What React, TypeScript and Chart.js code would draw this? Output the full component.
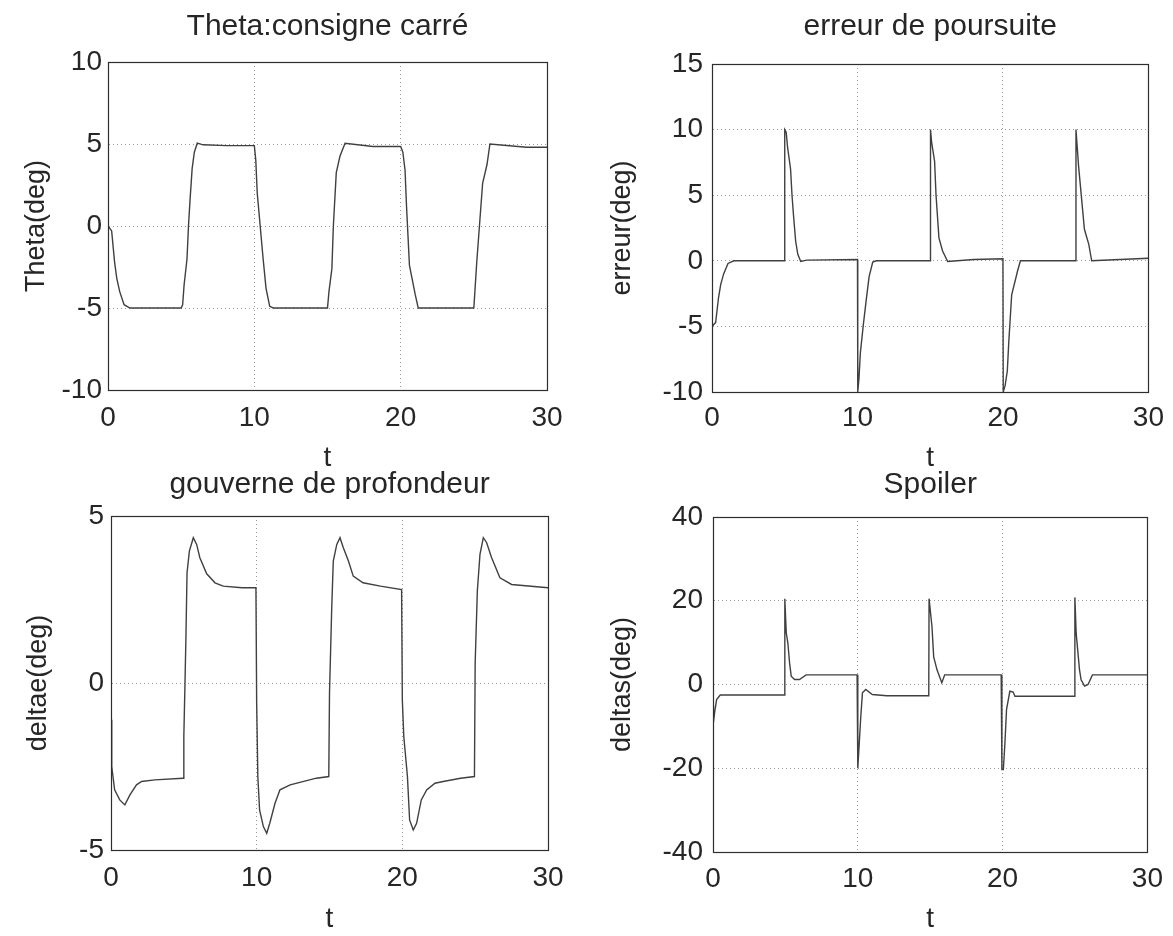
import React, { useEffect, useRef } from "react";
import { Chart, registerables } from "chart.js";

Chart.register(...registerables);

const FONT = '"Liberation Sans", Arial, Helvetica, sans-serif';
const TEXT = "#262626";
const GRID = "rgba(0,0,0,0.40)";
const LINE = "#404040";

// ---------- Subplot 1 : Theta (réponse à la consigne carrée) ----------
const thetaT = [0, 0.25, 0.45, 0.6, 0.8, 1.1, 1.5, 5.0, 5.1, 5.2, 5.4, 5.5, 5.6, 5.75, 5.9, 6.1, 6.5, 8.1, 10.0, 10.1, 10.2, 10.4, 10.6, 10.8, 11.05, 11.3, 15.0, 15.1, 15.3, 15.4, 15.6, 15.85, 16.2, 18.1, 20.0, 20.15, 20.3, 20.4, 20.5, 20.6, 21.0, 21.2, 25.0, 25.2, 25.4, 25.6, 25.9, 26.1, 28.6, 30];
const thetaY = [0, -0.3, -2.2, -3.2, -4.0, -4.8, -5.0, -5.0, -4.8, -3.6, -2.0, 0.0, 1.5, 3.5, 4.5, 5.05, 4.95, 4.9, 4.9, 4.0, 2.0, 0.0, -2.0, -3.8, -4.9, -5.0, -5.0, -4.0, -2.6, 0.0, 3.25, 4.25, 5.05, 4.85, 4.85, 4.5, 3.4, 1.2, -0.6, -2.4, -4.2, -5.0, -5.0, -2.2, 0.2, 2.6, 3.75, 5.0, 4.8, 4.8];

// ---------- Subplot 2 : erreur de poursuite ----------
const errT = [0, 0.25, 0.45, 0.6, 0.8, 1.1, 1.5, 4.95, 5.0, 5.1, 5.2, 5.4, 5.5, 5.6, 5.75, 5.9, 6.1, 6.5, 10.0, 10.02, 10.1, 10.2, 10.4, 10.6, 10.8, 11.05, 11.3, 15.0, 15.02, 15.1, 15.3, 15.4, 15.6, 15.85, 16.2, 18.0, 20.0, 20.02, 20.15, 20.3, 20.4, 20.5, 20.6, 21.0, 21.2, 25.0, 25.02, 25.2, 25.4, 25.6, 25.9, 26.1, 30];
const errY = [-5, -4.7, -2.8, -1.8, -1.0, -0.2, 0, 0, 10, 9.8, 8.6, 7.0, 5.0, 3.5, 1.5, 0.5, -0.05, 0.05, 0.1, -10, -9.0, -7.0, -4.9, -3.0, -1.2, -0.1, 0, 0, 10, 9.0, 7.6, 5.0, 1.75, 0.75, -0.05, 0.1, 0.15, -10, -9.5, -8.4, -6.2, -4.4, -2.6, -0.8, 0, 0, 10, 7.2, 4.8, 2.4, 1.25, 0, 0.2];

// ---------- Subplot 3 : gouverne de profondeur ----------
const deltaeT = [0, 0.05, 0.25, 0.6, 0.95, 1.3, 1.75, 2.1, 3.0, 4.95, 5.0, 5.08, 5.15, 5.22, 5.38, 5.65, 5.88, 6.1, 6.57, 7.14, 7.7, 9.0, 9.95, 10.0, 10.08, 10.2, 10.46, 10.69, 10.9, 11.26, 11.6, 12.3, 14.1, 14.95, 15.0, 15.15, 15.26, 15.5, 15.72, 15.95, 16.3, 16.63, 17.3, 18.5, 19.95, 20.0, 20.1, 20.35, 20.5, 20.75, 20.98, 21.3, 21.67, 22.24, 22.8, 24.0, 24.95, 25.0, 25.15, 25.33, 25.56, 25.79, 26.13, 26.7, 27.5, 30];
const deltaeY = [-1.1, -2.5, -3.2, -3.5, -3.65, -3.35, -3.05, -2.95, -2.9, -2.85, -1.6, 0, 1.5, 3.3, 3.95, 4.35, 4.15, 3.75, 3.27, 3.0, 2.9, 2.85, 2.85, -0.6, -2.8, -3.8, -4.3, -4.5, -4.2, -3.6, -3.2, -3.05, -2.85, -2.8, -0.3, 2.2, 3.65, 4.15, 4.35, 4.05, 3.65, 3.2, 3.0, 2.9, 2.8, -0.5, -1.6, -2.8, -4.1, -4.4, -4.2, -3.5, -3.2, -3.0, -2.95, -2.85, -2.8, 0.6, 2.76, 3.85, 4.35, 4.2, 3.75, 3.15, 2.95, 2.85];

// ---------- Subplot 4 : Spoiler ----------
const deltasT = [0, 0.03, 0.12, 0.25, 0.5, 4.94, 4.96, 5.06, 5.17, 5.29, 5.4, 5.63, 5.97, 6.43, 9.95, 10.0, 10.1, 10.2, 10.32, 10.55, 11.0, 12.0, 14.9, 14.92, 15.12, 15.24, 15.47, 15.8, 16.0, 19.9, 19.95, 20.05, 20.16, 20.27, 20.5, 20.73, 20.85, 24.97, 24.99, 25.08, 25.31, 25.42, 25.66, 25.9, 26.2, 30];
const deltasY = [-5, -9, -6.5, -3.6, -2.5, -2.5, 20.5, 12.3, 9.9, 5.1, 2.0, 1.2, 1.2, 2.3, 2.3, -20, -14, -8, -2.0, -1.2, -2.4, -2.7, -2.7, 20.5, 13.9, 6.6, 3.5, 0.4, 2.3, 2.3, -20.3, -20.3, -13.9, -6.0, -1.6, -1.8, -2.8, -2.8, 20.8, 12.2, 3.5, 1.1, -0.4, 0, 2.3, 2.3];

// ---------- Axes / labels ----------
const xTicks = [0, 10, 20, 30];
const titles = ["Theta:consigne carré", "erreur de poursuite", "gouverne de profondeur", "Spoiler"];
const yLabels = ["Theta(deg)", "erreur(deg)", "deltae(deg)", "deltas(deg)"];
const xLabel = "t";
const yRanges = [
  [-10, 10, 5],
  [-10, 15, 5],
  [-5, 5, 5],
  [-40, 40, 20],
];

const toPts = (t: number[], y: number[]) => t.map((x, i) => ({ x, y: y[i] }));

const boxPlugin = {
  id: "matlabBox",
  afterDatasetsDraw(chart: any) {
    const { ctx, chartArea } = chart;
    const { left, top, right, bottom } = chartArea;
    ctx.save();
    ctx.strokeStyle = "#2e2e2e";
    ctx.lineWidth = 1.2;
    ctx.setLineDash([]);
    ctx.strokeRect(Math.round(left) + 0.5, Math.round(top) + 0.5, Math.round(right - left), Math.round(bottom - top));
    ctx.restore();
  },
};

type Spec = {
  idx: number;
  left: number;
  top: number;
  w: number;
  h: number;
  yWidth: number;
  padRight: number;
  titleTop: number;
  titleBottom: number;
  xHeight: number;
  xTickPad: number;
  xTitleBottom: number;
  yTickPad: number;
  yTitlePad: number;
  series: { t: number[]; y: number[] }[];
};

const specs: Spec[] = [
  { idx: 0, left: 0, top: 0, w: 586, h: 480, yWidth: 108, padRight: 39, titleTop: 9, titleBottom: 17, xHeight: 90, xTickPad: 11, xTitleBottom: 5, yTickPad: 6, yTitlePad: 20, series: [{ t: thetaT, y: thetaY }] },
  { idx: 1, left: 586, top: 0, w: 587, h: 480, yWidth: 126, padRight: 24, titleTop: 9, titleBottom: 19, xHeight: 88, xTickPad: 9, xTitleBottom: 5, yTickPad: 9, yTitlePad: 20, series: [{ t: errT, y: errY }] },
  { idx: 2, left: 0, top: 440, w: 586, h: 496, yWidth: 111, padRight: 38, titleTop: 27, titleBottom: 13, xHeight: 86, xTickPad: 11, xTitleBottom: 0, yTickPad: 7, yTitlePad: 22, series: [{ t: deltaeT, y: deltaeY }] },
  { idx: 3, left: 586, top: 440, w: 587, h: 496, yWidth: 127, padRight: 23, titleTop: 27, titleBottom: 14, xHeight: 84, xTickPad: 10, xTitleBottom: 0, yTickPad: 10, yTitlePad: 20, series: [{ t: deltasT, y: deltasY }] },
];

function Panel({ s }: { s: Spec }) {
  const ref = useRef<HTMLCanvasElement>(null);
  useEffect(() => {
    const [yMin, yMax, yStep] = yRanges[s.idx];
    const gridOpts = { color: GRID, lineWidth: 1, drawTicks: false };
    const borderOpts = { display: true, color: "#2e2e2e", width: 1, dash: [1, 3] };
    const chart = new Chart(ref.current as HTMLCanvasElement, {
      type: "line",
      data: {
        datasets: s.series.map((d) => ({
          data: toPts(d.t, d.y),
          borderColor: LINE,
          borderWidth: 1.4,
          pointRadius: 0,
          fill: false,
          tension: 0,
        })),
      },
      options: {
        animation: false,
        responsive: false,
        devicePixelRatio: 1,
        events: [],
        layout: { padding: { left: 0, right: s.padRight, top: 0, bottom: 0 } },
        plugins: {
          legend: { display: false },
          tooltip: { enabled: false },
          title: {
            display: true,
            fullSize: false,
            text: titles[s.idx],
            color: TEXT,
            font: { family: FONT, size: 30, weight: "normal" },
            padding: { top: s.titleTop, bottom: s.titleBottom },
          },
        },
        scales: {
          x: {
            type: "linear",
            min: 0,
            max: 30,
            afterBuildTicks: (scale: any) => {
              scale.ticks = xTicks.map((v) => ({ value: v }));
            },
            afterFit: (scale: any) => {
              scale.height = s.xHeight;
            },
            ticks: { padding: s.xTickPad, color: TEXT, font: { family: FONT, size: 28 }, maxRotation: 0 },
            grid: gridOpts,
            border: borderOpts,
            title: {
              display: true,
              text: xLabel,
              color: TEXT,
              font: { family: FONT, size: 28 },
              padding: { top: 0, bottom: s.xTitleBottom },
            },
          },
          y: {
            type: "linear",
            min: yMin,
            max: yMax,
            afterFit: (scale: any) => {
              scale.width = s.yWidth;
            },
            ticks: { stepSize: yStep, padding: s.yTickPad, color: TEXT, font: { family: FONT, size: 28 } },
            grid: gridOpts,
            border: borderOpts,
            title: {
              display: true,
              text: yLabels[s.idx],
              color: TEXT,
              font: { family: FONT, size: 27 },
              padding: { top: s.yTitlePad, bottom: 0 },
            },
          },
        },
      } as any,
      plugins: [boxPlugin],
    });
    return () => chart.destroy();
  }, []);
  return (
    <canvas
      ref={ref}
      width={s.w}
      height={s.h}
      style={{ position: "absolute", left: s.left, top: s.top, width: s.w, height: s.h }}
    />
  );
}

export default function App() {
  useEffect(() => {
    document.body.style.margin = "0";
  }, []);
  return (
    <div
      style={{
        position: "absolute",
        left: 0,
        top: 0,
        width: 1173,
        height: 936,
        overflow: "hidden",
        background: "#ffffff",
      }}
    >
      {specs.map((s) => (
        <Panel key={s.idx} s={s} />
      ))}
    </div>
  );
}
